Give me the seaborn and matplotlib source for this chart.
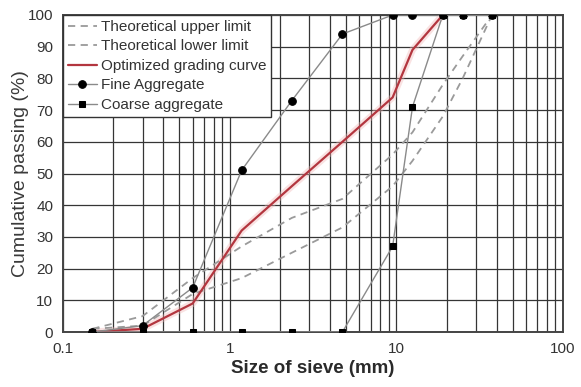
import matplotlib
matplotlib.use("Agg")
import matplotlib.pyplot as plt
from matplotlib.ticker import LogLocator, NullFormatter, FixedLocator
import seaborn as sns

# Sieve sizes (mm) and cumulative passing (%)
sieve = [0.15, 0.3, 0.6, 1.18, 2.36, 4.75, 9.5, 12.5, 19, 25, 37.5]
upper_limit = [1, 5, 17, 27, 36, 42, 56, 63, 78, 87, 100]
lower_limit = [1, 2, 12, 17, 25, 33, 46, 54, 68, 80, 100]
optimized_sieve = [0.15, 0.3, 0.6, 1.18, 2.36, 4.75, 9.5, 12.5, 19]
optimized = [0, 1, 9, 32, 46, 60, 74, 89, 100]
fine_aggregate = [0, 2, 14, 51, 73, 94, 100, 100, 100, 100, 100]
coarse_aggregate = [0, 0, 0, 0, 0, 0, 27, 71, 100, 100, 100]

x_ticks = [0.1, 1, 10, 100]
x_tick_labels = ["0.1", "1", "10", "100"]
y_ticks = list(range(0, 101, 10))

sns.set_style("white")
plt.rcParams["font.family"] = ["Liberation Sans", "DejaVu Sans"]

fig = plt.figure(figsize=(5.81, 3.87), dpi=100)
ax = fig.add_axes([63 / 581, 1 - 332 / 387, 500 / 581, 317 / 387])

grid_col = "#353535"
dash_col = "#9a9a9a"
mark_line_col = "#8a8a8a"
red = "#b3363f"

sns.lineplot(x=sieve, y=upper_limit, ax=ax, color=dash_col, lw=1.3,
             linestyle=(0, (4, 3)), label="Theoretical upper limit", zorder=4)
sns.lineplot(x=sieve, y=lower_limit, ax=ax, color=dash_col, lw=1.3,
             linestyle=(0, (4, 3)), label="Theoretical lower limit", zorder=4)
# soft halo under the red curve
ax.plot(optimized_sieve, optimized, color="#f2b8b8", lw=5, alpha=0.4,
        zorder=3, solid_capstyle="round")
sns.lineplot(x=optimized_sieve, y=optimized, ax=ax, color=red, lw=1.6,
             label="Optimized grading curve", zorder=5)
sns.lineplot(x=sieve, y=fine_aggregate, ax=ax, color=mark_line_col, lw=1.0,
             marker="o", markersize=5.5, markerfacecolor="black",
             markeredgecolor="black", label="Fine Aggregate", zorder=6)
sns.lineplot(x=sieve, y=coarse_aggregate, ax=ax, color=mark_line_col, lw=1.0,
             marker="s", markersize=4.5, markerfacecolor="black",
             markeredgecolor="black", label="Coarse aggregate", zorder=6)

ax.set_xscale("log")
ax.set_xlim(0.1, 100)
ax.set_ylim(0, 100)
ax.xaxis.set_major_locator(FixedLocator(x_ticks))
ax.set_xticklabels(x_tick_labels)
ax.xaxis.set_minor_locator(LogLocator(base=10, subs=range(2, 10)))
ax.xaxis.set_minor_formatter(NullFormatter())
ax.set_yticks(y_ticks)

ax.grid(True, which="major", axis="both", color=grid_col, lw=0.9)
ax.grid(True, which="minor", axis="x", color=grid_col, lw=0.9)
ax.set_axisbelow(True)

for s in ax.spines.values():
    s.set_visible(True)
    s.set_color("#444444")
    s.set_linewidth(1.4)

ax.tick_params(axis="x", which="both", length=0, labelsize=11,
               labelcolor="#333333", pad=7)
ax.tick_params(axis="y", which="both", length=4, width=0.9, color=grid_col,
               labelsize=11, labelcolor="#333333", pad=3)

ax.set_xlabel("Size of sieve (mm)", fontsize=13.5, fontweight="bold",
              color="#2a2a2a", labelpad=3)
ax.set_ylabel("Cumulative passing (%)", fontsize=14, color="#3a3a3a",
              labelpad=-1)

leg = ax.legend(loc="upper left", bbox_to_anchor=(0, 1), borderaxespad=0,
                frameon=True, fancybox=False, fontsize=11, handlelength=1.9,
                handletextpad=0.25, labelspacing=0.36, borderpad=0.32,
                framealpha=1)
leg.get_frame().set_edgecolor("#333333")
leg.get_frame().set_linewidth(1.0)
for t in leg.get_texts():
    t.set_color("#333333")
leg.set_zorder(10)

fig.savefig("out.png", dpi=100)
